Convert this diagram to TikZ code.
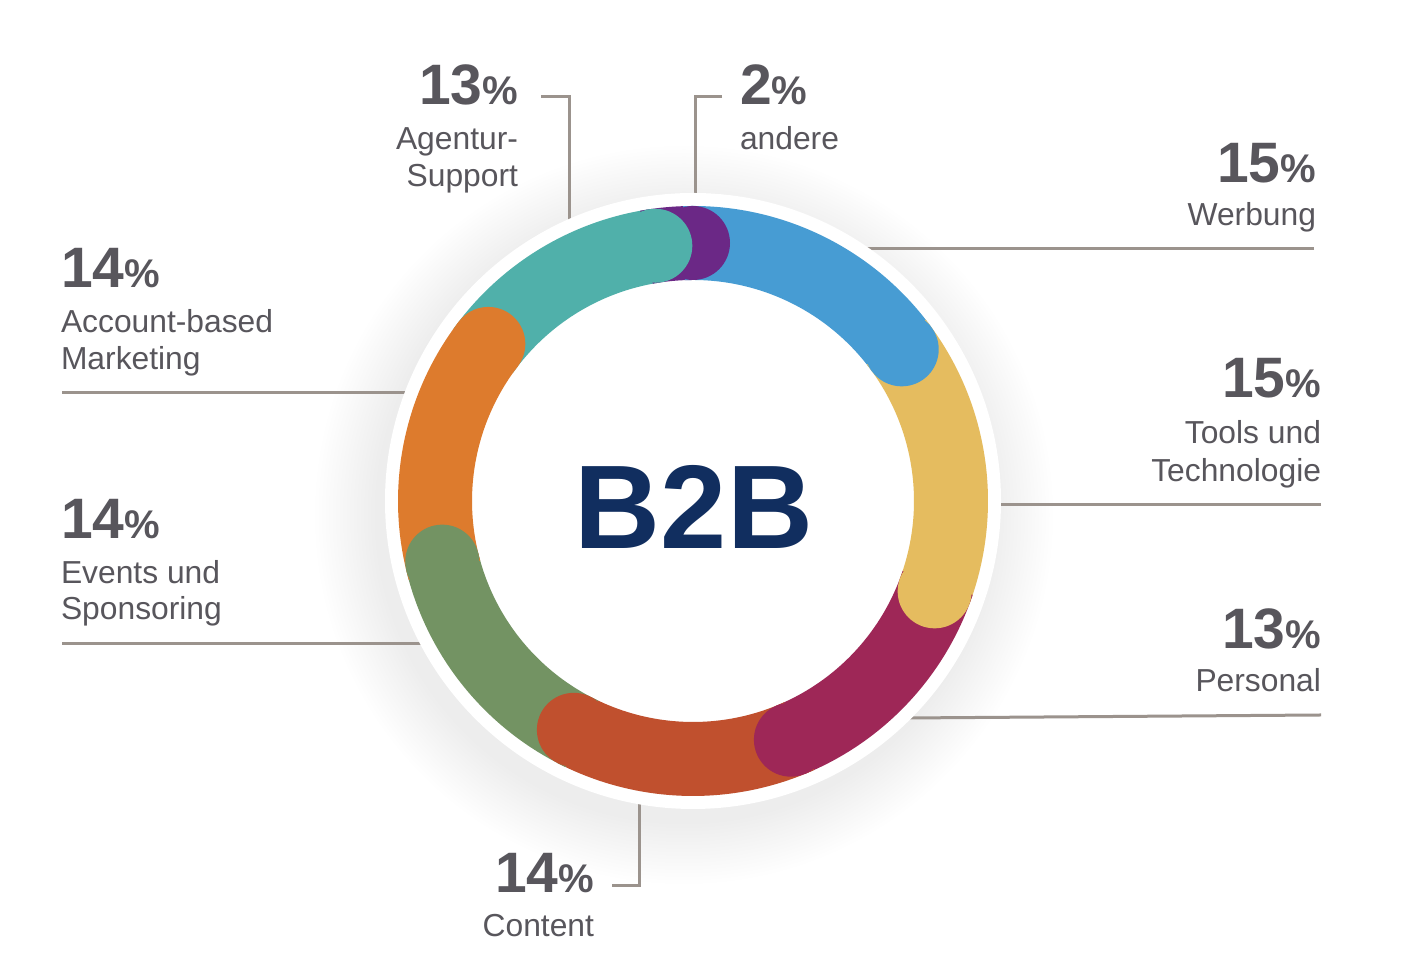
\documentclass[tikz,border=0pt]{standalone}
\usepackage{fontspec}
\setmainfont{Liberation Sans}
\usetikzlibrary{calc}
\definecolor{cteal}{HTML}{50B0AA}
\definecolor{cpurple}{HTML}{6B2886}
\definecolor{cblue}{HTML}{479CD3}
\definecolor{cyellow}{HTML}{E5BC5F}
\definecolor{ccrimson}{HTML}{9E2757}
\definecolor{cred}{HTML}{C0502E}
\definecolor{cgreen}{HTML}{739363}
\definecolor{corange}{HTML}{DD7B2D}
\definecolor{cnavy}{HTML}{112E5F}
\definecolor{linegray}{HTML}{9B938D}
\definecolor{txtgray}{HTML}{58565C}
\newcommand{\pctnum}[1]{{\fontsize{57}{57}\selectfont\bfseries #1}{\fontsize{40}{40}\selectfont\bfseries\%}}
\tikzset{
  leader/.style={draw=linegray, line width=3pt},
  numlbl/.style={inner sep=0pt, outer sep=0pt, text=txtgray},
  txtlbl/.style={inner sep=0pt, outer sep=0pt, text=txtgray, font=\fontsize{31.8}{37}\selectfont},
  seg/.style={line width=74pt},
}
\begin{document}
\begin{tikzpicture}[x=1pt,y=1pt]
\useasboundingbox (0,0) rectangle (1401,965);
\fill[white] (0,0) rectangle (1401,965);
\coordinate (C) at (693,464);
\coordinate (S) at (684,450);
% shadow
\foreach \i in {1,...,18}{
  \fill[black, opacity=0.0045] (S) circle[radius={306+3.5*\i}];
}
% leader coordinates
\coordinate (A1) at (541,868); \coordinate (A2) at (569,868); \coordinate (A3) at (569,700);
\coordinate (B1) at (722,868); \coordinate (B2) at (695,868); \coordinate (B3) at (695,700);
\coordinate (W1) at (1314,716); \coordinate (W2) at (850,716);
\coordinate (T1) at (1321,460); \coordinate (T2) at (980,460);
\coordinate (P1) at (1321,250); \coordinate (P2) at (880,246.8);
\coordinate (K1) at (612,79); \coordinate (K2) at (639,79); \coordinate (K3) at (639,250);
\coordinate (E1) at (62,321); \coordinate (E2) at (440,321);
\coordinate (M1) at (62,572); \coordinate (M2) at (420,572);
\draw[leader] (A1) -- (A2) -- (A3);
\draw[leader] (B1) -- (B2) -- (B3);
\draw[leader] (W1) -- (W2);
\draw[leader] (T1) -- (T2);
\draw[leader] (P1) -- (P2);
\draw[leader] (K1) -- (K2) -- (K3);
\draw[leader] (E1) -- (E2);
\draw[leader] (M1) -- (M2);
% white disc
\fill[white] (C) circle[radius=308];
% ring arcs
\foreach \s/\e/\c in {144.5/98.4/cteal, 100.4/90/cpurple, 92/36/cblue, 38/-20.5/cyellow,
  -18.5/-67.7/ccrimson, -65.7/-117.5/cred, -115.5/-166.4/cgreen, -164.4/-217.5/corange}{
  \draw[seg, draw=\c] (C) ++(\s:258) arc[start angle=\s, end angle=\e, radius=258];
}
% round caps
\foreach \a/\c in {90/cpurple, 36/cblue, -20.5/cyellow, -67.7/ccrimson, -117.5/cred,
  -166.4/cgreen, 142.5/corange, 98.4/cteal}{
  \fill[\c] (C) ++(\a:258) circle[radius=37];
}
% center text
\node[inner sep=0pt, anchor=base, text=cnavy, font=\fontsize{119}{119}\selectfont\bfseries] (b2b) at (694,416) {B2B};
% labels
\node[numlbl, anchor=base east] (nA) at (518,860) {\pctnum{13}};
\node[txtlbl, anchor=base east] (lA1) at (518,815) {Agentur-};
\node[txtlbl, anchor=base east] (lA2) at (518,778.5) {Support};

\node[numlbl, anchor=base west] (nB) at (740,860) {\pctnum{2}};
\node[txtlbl, anchor=base west] (lB1) at (740,815) {andere};

\node[numlbl, anchor=base east] (nW) at (1316,782) {\pctnum{15}};
\node[txtlbl, anchor=base east] (lW1) at (1316,739) {Werbung};

\node[numlbl, anchor=base east] (nT) at (1321,567) {\pctnum{15}};
\node[txtlbl, anchor=base east] (lT1) at (1321,521) {Tools und};
\node[txtlbl, anchor=base east] (lT2) at (1321,483.5) {Technologie};

\node[numlbl, anchor=base east] (nP) at (1321,316) {\pctnum{13}};
\node[txtlbl, anchor=base east] (lP1) at (1321,273) {Personal};

\node[numlbl, anchor=base east] (nK) at (594,72) {\pctnum{14}};
\node[txtlbl, anchor=base east] (lK1) at (594,28) {Content};

\node[numlbl, anchor=base west] (nM) at (61,677) {\pctnum{14}};
\node[txtlbl, anchor=base west] (lM1) at (61,632) {Account-based};
\node[txtlbl, anchor=base west] (lM2) at (61,595.5) {Marketing};

\node[numlbl, anchor=base west] (nE) at (61,426.5) {\pctnum{14}};
\node[txtlbl, anchor=base west] (lE1) at (61,381.5) {Events und};
\node[txtlbl, anchor=base west] (lE2) at (61,345) {Sponsoring};
\end{tikzpicture}
\end{document}
